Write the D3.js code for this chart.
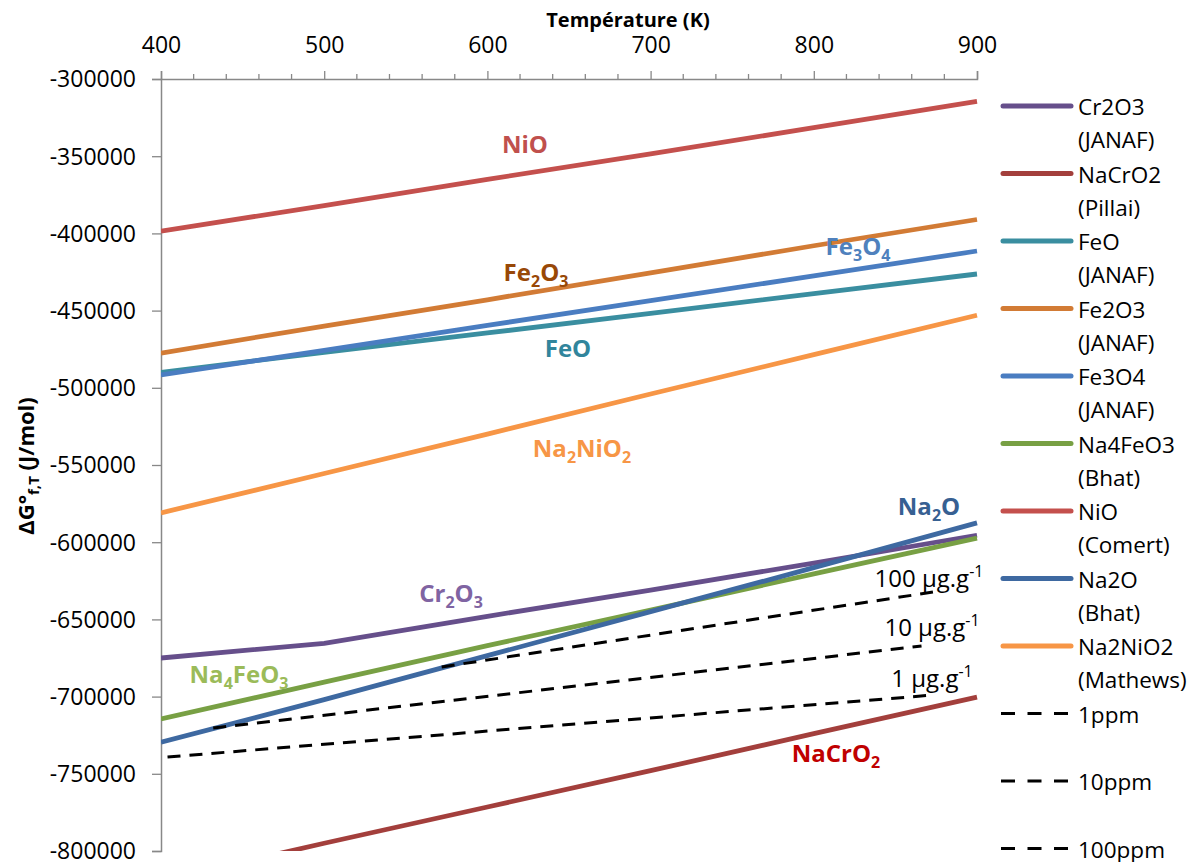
<!DOCTYPE html>
<html>
<head>
<meta charset="utf-8">
<script src="https://cdn.jsdelivr.net/npm/d3@7"></script>
<style>
  body { margin: 0; background: #fff; }
  svg { font-family: "Open Sans", sans-serif; }
</style>
</head>
<body>
<div id="chart"></div>
<script>
// values (J/mol)
var temps = [400, 500, 600, 700, 800, 900];
var cr2o3 = [-675000, -665500, -648000, -631000, -613500, -595500];
var nacro2 = [-819000, -795000, -771500, -748000, -724000, -700300];
var feo = [-490000, -477000, -464500, -451800, -439000, -426300];
var fe2o3 = [-477500, -460000, -443000, -425500, -408000, -391000];
var fe3o4 = [-491700, -475700, -459600, -443500, -427500, -411400];
var na4feo3 = [-714500, -690600, -667000, -644000, -620500, -597300];
var nio = [-398500, -382000, -365000, -348500, -331500, -314500];
var na2o = [-729500, -702000, -673500, -645000, -616500, -587500];
var na2nio2 = [-581000, -555500, -530000, -504000, -478500, -453000];

// dashed solubility lines
var ppm1T = [404, 873], ppm1 = [-739100, -699000];
var ppm10T = [432, 866], ppm10 = [-720400, -667200];
var ppm100T = [572, 873], ppm100 = [-680800, -632300];

var xTicks = [400, 500, 600, 700, 800, 900];
var yTicks = [-300000, -350000, -400000, -450000, -500000, -550000,
  -600000, -650000, -700000, -750000, -800000];

var series = [
  { name: "Cr2O3", src: "(JANAF)", t: temps, v: cr2o3, color: "#664f8b" },
  { name: "NaCrO2", src: "(Pillai)", t: temps, v: nacro2, color: "#a33f3c" },
  { name: "FeO", src: "(JANAF)", t: temps, v: feo, color: "#3a8ea0" },
  { name: "Fe2O3", src: "(JANAF)", t: temps, v: fe2o3, color: "#d27b35" },
  { name: "Fe3O4", src: "(JANAF)", t: temps, v: fe3o4, color: "#4a7dc1" },
  { name: "Na4FeO3", src: "(Bhat)", t: temps, v: na4feo3, color: "#78a044" },
  { name: "NiO", src: "(Comert)", t: temps, v: nio, color: "#c4504d" },
  { name: "Na2O", src: "(Bhat)", t: temps, v: na2o, color: "#3e69a1" },
  { name: "Na2NiO2", src: "(Mathews)", t: temps, v: na2nio2, color: "#f79646" },
  { name: "1ppm", src: "", t: ppm1T, v: ppm1, color: "#000", dash: true },
  { name: "10ppm", src: "", t: ppm10T, v: ppm10, color: "#000", dash: true },
  { name: "100ppm", src: "", t: ppm100T, v: ppm100, color: "#000", dash: true }
];

// in-plot labels; "_" = subscript, "^" = superscript
var labels = [
  { parts: [["NiO", ""]], x: 525, y: 153, color: "#c0504d", bold: true },
  { parts: [["Fe", ""], ["2", "_"], ["O", ""], ["3", "_"]], x: 536, y: 281, color: "#984807", bold: true },
  { parts: [["Fe", ""], ["3", "_"], ["O", ""], ["4", "_"]], x: 858, y: 255, color: "#4f81bd", bold: true },
  { parts: [["FeO", ""]], x: 568, y: 357, color: "#31859c", bold: true },
  { parts: [["Na", ""], ["2", "_"], ["NiO", ""], ["2", "_"]], x: 582, y: 457, color: "#f79646", bold: true },
  { parts: [["Na", ""], ["2", "_"], ["O", ""]], x: 929, y: 515, color: "#376092", bold: true },
  { parts: [["Cr", ""], ["2", "_"], ["O", ""], ["3", "_"]], x: 451, y: 602, color: "#8064a2", bold: true },
  { parts: [["Na", ""], ["4", "_"], ["FeO", ""], ["3", "_"]], x: 239, y: 683, color: "#9bbb59", bold: true },
  { parts: [["NaCrO", ""], ["2", "_"]], x: 836, y: 762, color: "#c00000", bold: true },
  { parts: [["100 µg.g", ""], ["-1", "^"]], x: 929, y: 587, color: "#000", bold: false },
  { parts: [["10 µg.g", ""], ["-1", "^"]], x: 932, y: 636, color: "#000", bold: false },
  { parts: [["1 µg.g", ""], ["-1", "^"]], x: 932, y: 687, color: "#000", bold: false }
];

var W = 1204, H = 862;
var plot = { left: 161, right: 977, top: 79, bottom: 851 };

var svg = d3.select("#chart").append("svg")
  .attr("width", W)
  .attr("height", H);

var x = d3.scaleLinear().domain([400, 900]).range([plot.left, plot.right]);
var y = d3.scaleLinear().domain([-800000, -300000]).range([plot.bottom, plot.top]);

svg.append("clipPath").attr("id", "clip")
  .append("rect")
  .attr("x", plot.left).attr("y", plot.top)
  .attr("width", plot.right - plot.left + 6)
  .attr("height", plot.bottom - plot.top);

// plain hyphen for negatives, like the original
var fmt = function(d) { return String(d); };

// top axis (x)
svg.append("g")
  .attr("transform", "translate(0," + plot.top + ")")
  .call(d3.axisTop(x).tickValues(xTicks).tickSize(8).tickPadding(18).tickFormat(fmt));

// minor ticks every 20 K
svg.append("g").selectAll("line")
  .data(d3.range(400, 901, 20).filter(function(d) { return d % 100 != 0; }))
  .enter().append("line")
  .attr("x1", function(d) { return x(d); })
  .attr("x2", function(d) { return x(d); })
  .attr("y1", plot.top)
  .attr("y2", plot.top - 5)
  .attr("stroke", "#888")
  .attr("stroke-width", 1.3);

// left axis (y)
var yAxis = svg.append("g")
  .attr("transform", "translate(" + plot.left + ",0)")
  .call(d3.axisLeft(y).tickValues(yTicks).tickSize(9).tickPadding(16).tickFormat(fmt));

svg.selectAll(".domain").attr("stroke", "#888").attr("stroke-width", 1.5);
svg.selectAll(".tick line").attr("stroke", "#888").attr("stroke-width", 1.3);
svg.selectAll(".tick text")
  .attr("font-family", "Open Sans, sans-serif")
  .attr("font-size", 23)
  .attr("fill", "#000");
yAxis.selectAll(".tick text").attr("dy", "0.34em");

// axis titles
svg.append("text")
  .attr("x", 628)
  .attr("y", 27)
  .attr("text-anchor", "middle")
  .attr("font-size", 20)
  .attr("font-weight", "bold")
  .text("Température (K)");

var yt = svg.append("text")
  .attr("transform", "translate(34,466) rotate(-90)")
  .attr("text-anchor", "middle")
  .attr("font-size", 22)
  .attr("font-weight", "bold");
yt.append("tspan").text("ΔG°");
yt.append("tspan").attr("font-size", 15).attr("dy", 5).text("f,T");
yt.append("tspan").attr("dy", -5).text("  (J/mol)");

// lines
var line = d3.line()
  .x(function(d) { return x(d[0]); })
  .y(function(d) { return y(d[1]); });

svg.append("g").attr("clip-path", "url(#clip)")
  .selectAll("path")
  .data(series)
  .enter().append("path")
  .attr("d", function(s) { return line(d3.zip(s.t, s.v)); })
  .attr("fill", "none")
  .attr("stroke", function(s) { return s.color; })
  .attr("stroke-width", function(s) { return s.dash ? 3 : 4.8; })
  .attr("stroke-dasharray", function(s) { return s.dash ? "13,9" : null; });

// labels inside plot
labels.forEach(function(l) {
  var t = svg.append("text")
    .attr("x", l.x)
    .attr("y", l.y)
    .attr("text-anchor", "middle")
    .attr("font-size", 24)
    .attr("font-weight", l.bold ? "bold" : "normal")
    .attr("fill", l.color);
  var shift = 0;
  l.parts.forEach(function(p) {
    var want = p[1] == "_" ? 6 : p[1] == "^" ? -10 : 0;
    t.append("tspan")
      .attr("dy", want - shift)
      .attr("font-size", p[1] == "" ? 24 : 16)
      .text(p[0]);
    shift = want;
  });
});

// legend
var leg = svg.append("g");
series.forEach(function(s, i) {
  var ly = 106 + i * 67.5;
  leg.append("line")
    .attr("x1", s.dash ? 1001 : 1003)
    .attr("x2", s.dash ? 1070 : 1071)
    .attr("y1", ly).attr("y2", ly)
    .attr("stroke", s.color)
    .attr("stroke-width", s.dash ? 3 : 5)
    .attr("stroke-linecap", s.dash ? "butt" : "round")
    .attr("stroke-dasharray", s.dash ? "14,12.5" : null);
  leg.append("text")
    .attr("x", 1078).attr("y", ly + 9)
    .attr("font-size", 22.5)
    .text(s.name);
  if (s.src) {
    leg.append("text")
      .attr("x", 1078).attr("y", ly + 42)
      .attr("font-size", 22.5)
      .text(s.src);
  }
});
</script>
</body>
</html>
